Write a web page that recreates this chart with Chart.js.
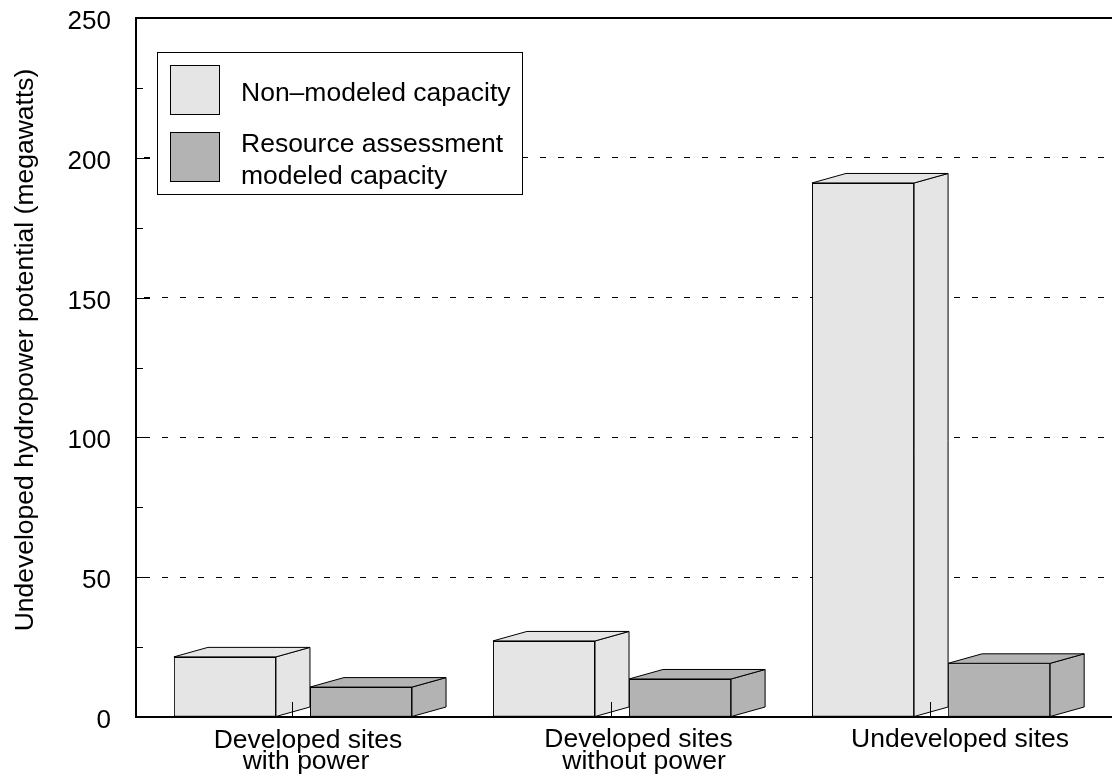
<!DOCTYPE html>
<html>
<head>
<meta charset="utf-8">
<style>
  html, body { margin: 0; padding: 0; background: #fff; overflow: hidden; }
  #wrap { width: 1112px; height: 777px; }
</style>
<script src="https://cdn.jsdelivr.net/npm/chart.js@4"></script>
</head>
<body>
<div id="wrap"><canvas id="hydroChart"></canvas></div>
<script>
/* ── Data ── */
const categoryPositions = [0, 1, 2];
const categoryLines = [
  ['Developed sites', 'with power'],
  ['Developed sites', 'without power'],
  ['Undeveloped sites'],
];
const nonModeled = [21.5, 27.2, 191];
const modeled = [10.7, 13.6, 19.2];
const seriesNames = ['Non\u2013modeled capacity', 'Resource assessment modeled capacity'];
const legendLines = [['Non\u2013modeled capacity'], ['Resource assessment', 'modeled capacity']];
const yTicks = [0, 50, 100, 150, 200, 250];
const yTitle = 'Undeveloped hydropower potential (megawatts)';

/* ── Style ── */
const FAMILY = '"Liberation Sans", Arial, sans-serif';
const FONT = '26.5px ' + FAMILY;
const LIGHT = '#e5e5e5';
const DARK = '#b3b3b3';
const DEPTH_X = 34;
const DEPTH_Y = 9.5;
// the original labels are not centred on their ticks
const labelOffsets = [[15, 13], [26.5, 32], [29]];
const labelBaselines = [[748, 769], [747, 769], [747]];

/* ── 3D side and top faces, drawn after each dataset ── */
const boxFaces = {
  id: 'boxFaces',
  afterDatasetDraw(chart, args) {
    const ctx = chart.ctx;
    const meta = chart.getDatasetMeta(args.index);
    ctx.save();
    ctx.strokeStyle = '#000';
    ctx.lineWidth = 1;
    ctx.lineJoin = 'round';
    ctx.fillStyle = chart.data.datasets[args.index].backgroundColor;
    meta.data.forEach(bar => {
      const left = bar.x - bar.width / 2;
      const right = bar.x + bar.width / 2;
      const top = bar.y;
      const base = bar.base;
      // side
      ctx.beginPath();
      ctx.moveTo(right, top);
      ctx.lineTo(right + DEPTH_X, top - DEPTH_Y);
      ctx.lineTo(right + DEPTH_X, base - DEPTH_Y);
      ctx.lineTo(right, base);
      ctx.closePath();
      ctx.fill();
      ctx.stroke();
      // top
      ctx.beginPath();
      ctx.moveTo(left, top);
      ctx.lineTo(left + DEPTH_X, top - DEPTH_Y);
      ctx.lineTo(right + DEPTH_X, top - DEPTH_Y);
      ctx.lineTo(right, top);
      ctx.closePath();
      ctx.fill();
      ctx.stroke();
    });
    ctx.restore();
  },
};

/* ── Frame, inward ticks, labels and legend ── */
const decorations = {
  id: 'decorations',
  afterDraw(chart) {
    const ctx = chart.ctx;
    const { left, right, top, bottom } = chart.chartArea;
    const xs = chart.scales.x;
    const ys = chart.scales.y;
    ctx.save();

    // frame
    ctx.strokeStyle = '#000';
    ctx.lineWidth = 2;
    ctx.beginPath();
    ctx.moveTo(right, top);
    ctx.lineTo(left, top);
    ctx.lineTo(left, bottom);
    ctx.lineTo(right, bottom);
    ctx.stroke();

    // inward ticks
    ctx.lineWidth = 1;
    ctx.beginPath();
    ys.ticks.forEach(t => {
      const y = Math.round(ys.getPixelForValue(t.value)) + 0.5;
      ctx.moveTo(left, y);
      ctx.lineTo(left + (t.value % 50 === 0 ? 14 : 7), y);
    });
    categoryPositions.forEach(p => {
      const x = Math.round(xs.getPixelForValue(p)) - 0.5;
      ctx.moveTo(x, bottom);
      ctx.lineTo(x, bottom - 15);
    });
    ctx.stroke();

    // y tick labels
    ctx.fillStyle = '#000';
    ctx.font = '26px ' + FAMILY;
    ctx.textAlign = 'right';
    ctx.textBaseline = 'alphabetic';
    yTicks.forEach(v => ctx.fillText(String(v), 111, ys.getPixelForValue(v) + 11));

    // category labels
    ctx.font = FONT;
    ctx.textAlign = 'center';
    categoryLines.forEach((lines, i) => {
      lines.forEach((line, j) => {
        ctx.fillText(line, xs.getPixelForValue(categoryPositions[i]) + labelOffsets[i][j], labelBaselines[i][j]);
      });
    });

    // y title
    ctx.save();
    ctx.translate(33, 350);
    ctx.rotate(-Math.PI / 2);
    ctx.fillText(yTitle, 0, 0);
    ctx.restore();

    // legend
    ctx.fillStyle = '#fff';
    ctx.fillRect(157, 52, 365, 142);
    ctx.lineWidth = 1;
    ctx.strokeRect(157.5, 52.5, 365, 142);
    [[65, LIGHT], [132, DARK]].forEach(([y, color]) => {
      ctx.fillStyle = color;
      ctx.fillRect(170.5, y + 0.5, 49, 49);
      ctx.strokeRect(170.5, y + 0.5, 49, 49);
    });
    ctx.fillStyle = '#000';
    ctx.textAlign = 'left';
    ctx.fillText(legendLines[0][0], 241, 101);
    ctx.fillText(legendLines[1][0], 241, 152);
    ctx.fillText(legendLines[1][1], 241, 184);
    ctx.restore();
  },
};

new Chart(document.getElementById('hydroChart'), {
  type: 'bar',
  data: {
    datasets: [
      {
        label: seriesNames[0],
        data: categoryPositions.map((p, i) => ({ x: p, y: nonModeled[i] })),
        backgroundColor: LIGHT,
        borderColor: '#000',
        borderWidth: 1,
        borderSkipped: false,
      },
      {
        label: seriesNames[1],
        data: categoryPositions.map((p, i) => ({ x: p, y: modeled[i] })),
        backgroundColor: DARK,
        borderColor: '#000',
        borderWidth: 1,
        borderSkipped: false,
      },
    ],
  },
  options: {
    responsive: true,
    maintainAspectRatio: false,
    animation: false,
    categoryPercentage: 0.853,
    barPercentage: 0.75,
    layout: { padding: { top: 18, right: 0, bottom: 0, left: 0 } },
    plugins: { legend: { display: false }, tooltip: { enabled: false } },
    scales: {
      x: {
        type: 'linear',
        min: -0.492,
        max: 2.567,
        offset: false,
        grid: { display: false },
        border: { display: false },
        ticks: { display: false },
        afterBuildTicks: s => { s.ticks = categoryPositions.map(value => ({ value })); },
        afterFit: s => { s.height = 60; },
      },
      y: {
        min: 0,
        max: 250,
        grid: {
          drawTicks: false,
          color: c => (yTicks.includes(c.tick.value) && c.tick.value !== 0 && c.tick.value !== 250 ? '#000' : 'transparent'),
        },
        border: { display: false, dash: [6, 12], dashOffset: 10 },
        ticks: { display: false, stepSize: 25, autoSkip: false },
        afterFit: s => { s.width = 136; },
      },
    },
  },
  plugins: [boxFaces, decorations],
});
</script>
</body>
</html>
